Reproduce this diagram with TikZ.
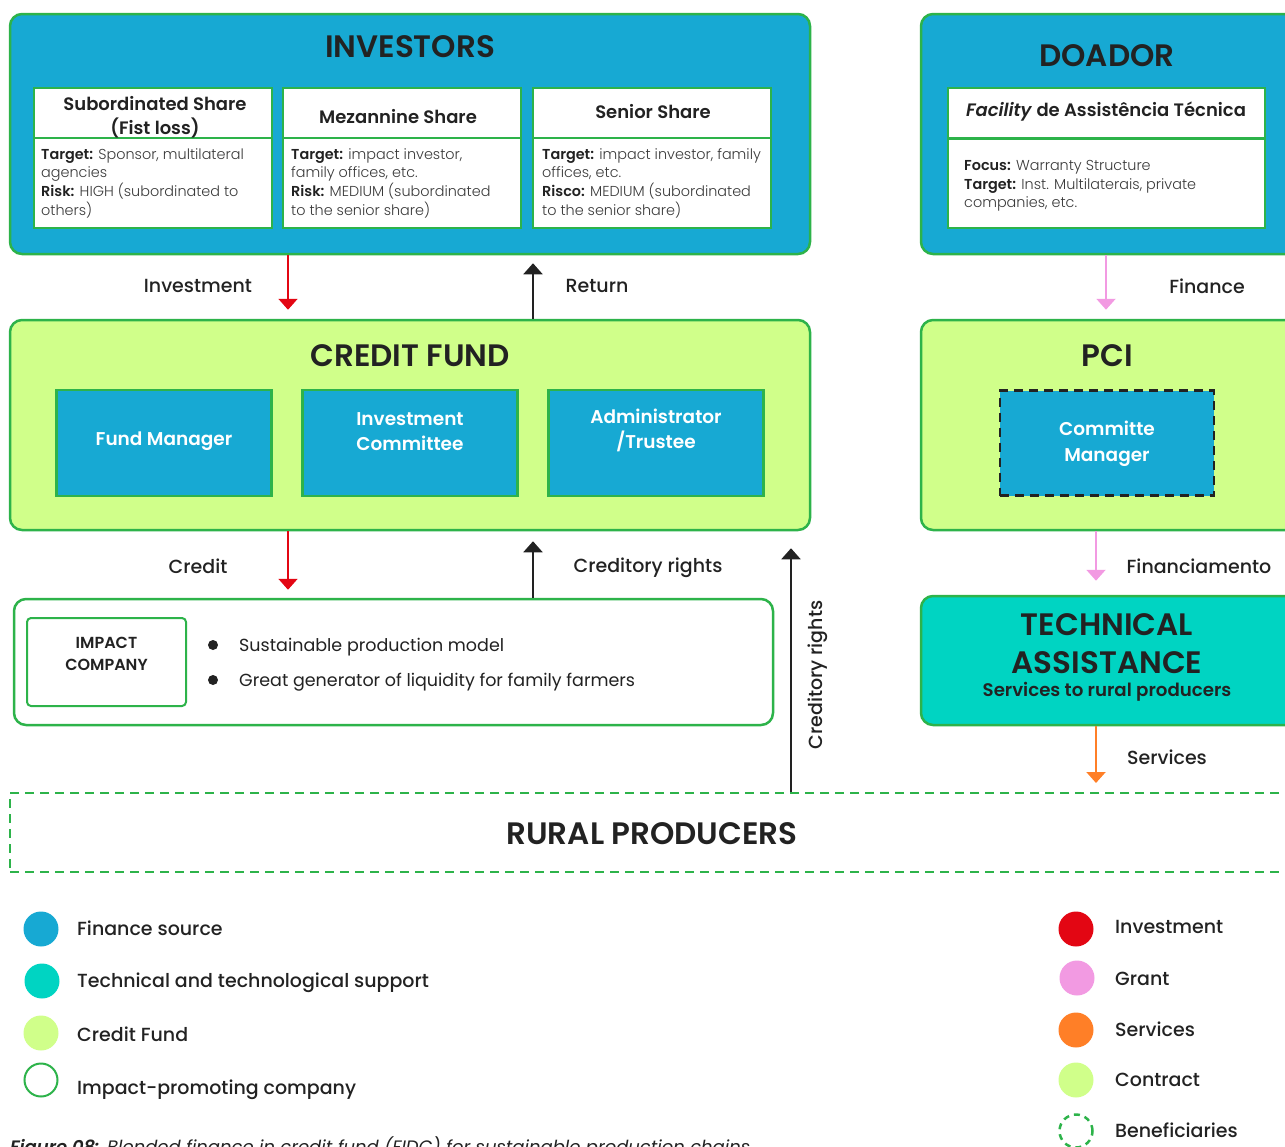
\documentclass[tikz,border=0pt]{standalone}
\usepackage{fontspec}
\setmainfont{Poppins}[BoldFont={Poppins SemiBold}, BoldItalicFont={Poppins SemiBold Italic}]
\newfontfamily\plight{Poppins Light}
\newfontfamily\pmed{Poppins Medium}
\usetikzlibrary{arrows.meta}
\definecolor{cblue}{HTML}{17A9D3}
\definecolor{clime}{HTML}{D0FF8A}
\definecolor{cturq}{HTML}{00D4C2}
\definecolor{cgreen}{HTML}{2DB34A}
\definecolor{cred}{HTML}{E30613}
\definecolor{cpink}{HTML}{F29AE2}
\definecolor{corange}{HTML}{FF7F27}
\definecolor{ctext}{HTML}{222222}
\definecolor{cgray}{HTML}{3A3A3A}
\tikzset{
  bigbox/.style={draw=cgreen, line width=2.5pt, rounded corners=12pt, inner sep=0pt},
  subbox/.style={draw=cgreen, line width=2pt, fill=white, inner sep=0pt},
  innerblue/.style={draw=cgreen, line width=2.5pt, fill=cblue, inner sep=0pt},
  whitetxt/.style={text=white, font=\fontsize{18.5}{25}\selectfont\bfseries, align=center},
  title/.style={text=ctext, font=\fontsize{31}{38}\selectfont\bfseries, align=center},
  hdr/.style={text=ctext, font=\fontsize{18}{24}\selectfont\bfseries, align=center},
  body/.style={text=cgray, font=\fontsize{14.4}{18.8}\selectfont\plight, align=left, anchor=north west, inner sep=0pt},
  lbl/.style={text=ctext, font=\fontsize{19}{22}\selectfont\pmed},
  bullettxt/.style={text=ctext, font=\fontsize{17.5}{22}\selectfont, anchor=west, inner sep=0pt},
  legtxt/.style={text=ctext, font=\fontsize{19}{22}\selectfont\pmed, anchor=west, inner sep=0pt},
  legdot/.style={circle, minimum size=35pt, inner sep=0pt},
  bulletdot/.style={circle, fill=ctext, minimum size=10pt, inner sep=0pt},
  arr/.style={line width=2pt, -{Triangle[length=11pt,width=19pt]}},
}
\newcommand{\bk}[1]{{\normalfont\bfseries\color{ctext}#1}}
\begin{document}
\begin{tikzpicture}[x=1pt,y=-1pt]
\useasboundingbox (0,0) rectangle (1285,1146);
\clip (0,0) rectangle (1285,1146);

% ---------- INVESTORS ----------
\node[bigbox, fill=cblue, minimum width=800pt, minimum height=240pt] (inv) at (410,134) {};
\node[title] (invt) at (410,47) {INVESTORS};

\node[subbox, minimum width=238pt, minimum height=50pt] (s1h) at (153,113) {};
\node[subbox, minimum width=238pt, minimum height=90pt] (s1b) at (153,183) {};
\node[hdr] (s1t) at (155,117) {Subordinated Share\\(Fist loss)};
\node[body] (s1x) at (41,148) {\bk{Target:} Sponsor, multilateral\\agencies\\\bk{Risk:} HIGH (subordinated to\\others)};

\node[subbox, minimum width=238pt, minimum height=50pt] (s2h) at (402,113) {};
\node[subbox, minimum width=238pt, minimum height=90pt] (s2b) at (402,183) {};
\node[hdr] (s2t) at (398,117) {Mezannine Share};
\node[body] (s2x) at (291,148) {\bk{Target:} impact investor,\\family offices, etc.\\\bk{Risk:} MEDIUM (subordinated\\to the senior share)};

\node[subbox, minimum width=238pt, minimum height=50pt] (s3h) at (652,113) {};
\node[subbox, minimum width=238pt, minimum height=90pt] (s3b) at (652,183) {};
\node[hdr] (s3t) at (653,112) {Senior Share};
\node[body] (s3x) at (542,148) {\bk{Target:} impact investor, family\\offices, etc.\\\bk{Risco:} MEDIUM (subordinated\\to the senior share)};

% ---------- DOADOR ----------
\node[bigbox, fill=cblue, minimum width=390pt, minimum height=240pt] (doa) at (1116,134) {};
\node[title] (doat) at (1107,56) {DOADOR};
\node[subbox, minimum width=317pt, minimum height=50pt] (dh) at (1106,113) {};
\node[subbox, minimum width=317pt, minimum height=89pt] (db) at (1106,183) {};
\node[hdr] (dt) at (1106,112) {\textit{Facility} de Assistência Técnica};
\node[body] (dx) at (964,160) {\bk{Focus:} Warranty Structure\\\bk{Target:} Inst. Multilaterais, private\\companies, etc.};

% ---------- CREDIT FUND ----------
\node[bigbox, fill=clime, minimum width=800pt, minimum height=210pt] (cf) at (410,425) {};
\node[title] (cft) at (410,356) {CREDIT FUND};
\node[innerblue, minimum width=215pt, minimum height=106pt] (fm) at (164,443) {};
\node[whitetxt] (fmt) at (164,441) {Fund Manager};
\node[innerblue, minimum width=215pt, minimum height=106pt] (ic) at (410,443) {};
\node[whitetxt] (ict) at (410,432) {Investment\\Committee};
\node[innerblue, minimum width=215pt, minimum height=106pt] (ad) at (656,443) {};
\node[whitetxt] (adt) at (656,430) {Administrator\\/Trustee};

% ---------- PCI ----------
\node[bigbox, fill=clime, minimum width=390pt, minimum height=210pt] (pci) at (1116,425) {};
\node[title] (pcit) at (1107,356) {PCI};
\node[draw=ctext, dash pattern=on 9pt off 6pt, line width=2.5pt, fill=cblue, minimum width=214pt, minimum height=105pt, inner sep=0pt] (cm) at (1107,443) {};
\node[whitetxt, font=\fontsize{18.5}{26}\selectfont\bfseries] (cmt) at (1107,444) {Committe\\Manager};

% ---------- IMPACT COMPANY ----------
\node[bigbox, fill=white, minimum width=759pt, minimum height=126pt] (imp) at (393.5,662) {};
\node[draw=cgreen, line width=2pt, rounded corners=4pt, fill=white, minimum width=159pt, minimum height=88pt, inner sep=0pt] (ib) at (106.5,662) {};
\node[text=ctext, font=\fontsize{16}{22}\selectfont\bfseries, align=center] (ibt) at (106.5,654) {IMPACT\\COMPANY};
\node[bulletdot] (b1) at (213,645) {};
\node[bulletdot] (b2) at (213,680) {};
\node[bullettxt] (b1t) at (239,647) {Sustainable production model};
\node[bullettxt] (b2t) at (239,682) {Great generator of liquidity for family farmers};

% ---------- TECHNICAL ASSISTANCE ----------
\node[bigbox, fill=cturq, minimum width=390pt, minimum height=129pt] (ta) at (1116,660.5) {};
\node[text=ctext, font=\fontsize{31}{38}\selectfont\bfseries, align=center] (tat) at (1107,644) {TECHNICAL\\ASSISTANCE};
\node[text=ctext, font=\fontsize{18.2}{22}\selectfont\bfseries] (tas) at (1107,692) {Services to rural producers};

% ---------- RURAL PRODUCERS ----------
\node[draw=cgreen, line width=2pt, dash pattern=on 9pt off 6pt, minimum width=1300pt, minimum height=79pt, inner sep=0pt] (rp) at (660,832.5) {};
\node[title] (rpt) at (652,834) {RURAL PRODUCERS};

% ---------- connectors ----------
\coordinate (xa) at (288,0);
\coordinate (xb) at (533,0);
\coordinate (xc) at (791,0);
\coordinate (xd) at (1106,0);
\coordinate (xe) at (1096,0);

\draw[arr, cred, shorten >=9pt] (inv.south -| xa) -- (cf.north -| xa);
\draw[arr, ctext, shorten >=8pt] (cf.north -| xb) -- (inv.south -| xb);
\draw[arr, cpink, shorten >=9pt] (doa.south -| xd) -- (pci.north -| xd);
\draw[arr, cred, shorten >=8pt] (cf.south -| xa) -- (imp.north -| xa);
\draw[arr, ctext, shorten >=10pt] (imp.north -| xb) -- (cf.south -| xb);
\draw[arr, ctext, shorten >=17pt] (rp.north -| xc) -- (cf.south -| xc);
\draw[arr, cpink, shorten >=14pt] (pci.south -| xe) -- (ta.north -| xe);
\draw[arr, corange, shorten >=9pt] (ta.south -| xe) -- (rp.north -| xe);

\node[lbl] (l1) at (198,286) {Investment};
\node[lbl] (l2) at (597,286) {Return};
\node[lbl] (l3) at (1207,286) {Finance};
\node[lbl] (l4) at (198,566) {Credit};
\node[lbl] (l5) at (648,568) {Creditory rights};
\node[lbl, rotate=90] (l6) at (818,675) {Creditory rights};
\node[lbl] (l7) at (1199,566) {Financiamento};
\node[lbl] (l8) at (1167,757) {Services};

% ---------- legend ----------
\node[legdot, fill=cblue] (g1) at (41,929) {};
\node[legtxt] (g1t) at (77,928) {Finance source};
\node[legdot, fill=cturq] (g2) at (42,981) {};
\node[legtxt] (g2t) at (77,983) {Technical and technological support};
\node[legdot, fill=clime] (g3) at (41,1033) {};
\node[legtxt] (g3t) at (77,1034) {Credit Fund};
\node[legdot, draw=cgreen, line width=2pt, fill=white, minimum size=33pt] (g4) at (41,1080) {};
\node[legtxt] (g4t) at (77,1090) {Impact-promoting company};

\node[legdot, fill=cred] (h1) at (1076,929) {};
\node[legtxt] (h1t) at (1115,927) {Investment};
\node[legdot, fill=cpink] (h2) at (1077,978) {};
\node[legtxt] (h2t) at (1115,979) {Grant};
\node[legdot, fill=corange] (h3) at (1076,1030) {};
\node[legtxt] (h3t) at (1115,1029) {Services};
\node[legdot, fill=clime] (h4) at (1076,1080) {};
\node[legtxt] (h4t) at (1115,1080) {Contract};
\node[legdot, draw=cgreen, line width=2.5pt, dash pattern=on 6pt off 5pt, minimum size=33pt] (h5) at (1076,1131) {};
\node[legtxt] (h5t) at (1115,1130) {Beneficiaries};

% ---------- caption (cut by page edge, as in the reference) ----------
\node[anchor=north west, inner sep=0pt, text=ctext, font=\fontsize{18}{22}\selectfont\itshape] (cap) at (10,1136) {\textbf{Figure 08:} Blended finance in credit fund (FIDC) for sustainable production chains};
\end{tikzpicture}
\end{document}
